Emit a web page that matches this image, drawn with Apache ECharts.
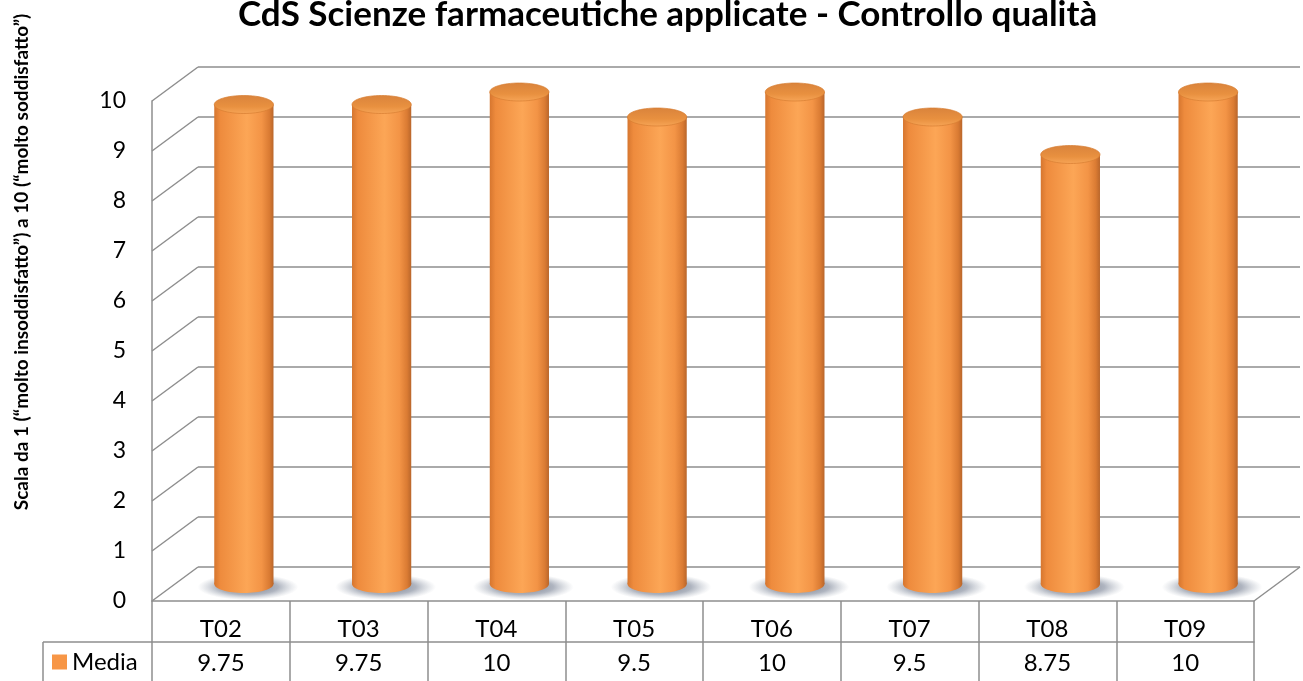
<!DOCTYPE html>
<html>
<head>
<meta charset="utf-8">
<script src="https://cdn.jsdelivr.net/npm/echarts@6/dist/echarts.min.js"></script>
<style>
  html, body { margin: 0; padding: 0; background: #fff; }
  #chart { width: 1303px; height: 681px; }
</style>
</head>
<body>
<div id="chart"></div>
<script>
// dati
const categories = ['T02', 'T03', 'T04', 'T05', 'T06', 'T07', 'T08', 'T09']
const mediaValues = [9.75, 9.75, 10, 9.5, 10, 9.5, 8.75, 10]
const yTicks = [0, 1, 2, 3, 4, 5, 6, 7, 8, 9, 10]

const FONT = 'Lato, "Open Sans", sans-serif'
const LINE = '#8e8e8e'
// profondita' della parete di fondo (effetto 3D)
const DEPTH_X = 46
const DEPTH_Y = 34
const TOP_ADJ = 8

const chart = echarts.init(document.getElementById('chart'))

// pareti: diagonale laterale + linea di griglia sul fondo
const renderWall = (params, api) => {
  const cs = params.coordSys
  const v = api.value(1)
  const y = api.coord([0, v])[1]
  const x0 = cs.x
  const x1 = cs.x + cs.width
  const style = {stroke: LINE, lineWidth: 1.5}
  const children = [
    {type: 'line', shape: {x1: x0, y1: y, x2: x0 + DEPTH_X, y2: y - DEPTH_Y}, style},
    {type: 'line', shape: {x1: x0 + DEPTH_X, y1: y - DEPTH_Y, x2: x1 + DEPTH_X, y2: y - DEPTH_Y}, style}
  ]
  if (v === 0) {
    children.push({type: 'line', shape: {x1: x1, y1: y, x2: x1 + DEPTH_X, y2: y - DEPTH_Y}, style})
  }
  return {type: 'group', children}
}

const bodyGradient = () => new echarts.graphic.LinearGradient(0, 0, 1, 0, [
  {offset: 0, color: '#d6762f'},
  {offset: 0.1, color: '#ee8b3d'},
  {offset: 0.55, color: '#fca656'},
  {offset: 0.8, color: '#f39446'},
  {offset: 0.93, color: '#da7b33'},
  {offset: 1, color: '#b9662b'}
])

// cilindri
const renderCylinder = (params, api) => {
  const idx = api.value(0)
  const val = api.value(1)
  const top = api.coord([idx, val])
  const base = api.coord([idx, 0])
  const bw = api.size([1, 0])[0]
  const rx = bw * 0.215
  const ry = 9
  const cx = top[0] + DEPTH_X / 2
  const yBottom = base[1] - DEPTH_Y / 2
  const yTop = top[1] - DEPTH_Y / 2 + TOP_ADJ
  const shadowR = rx * 1.7
  return {
    type: 'group',
    children: [
      {
        type: 'circle',
        x: cx + 4, y: yBottom + 3,
        scaleY: 13 / shadowR,
        shape: {cx: 0, cy: 0, r: shadowR},
        style: {
          fill: new echarts.graphic.RadialGradient(0.5, 0.5, 0.5, [
            {offset: 0, color: 'rgba(85,95,115,0.85)'},
            {offset: 0.6, color: 'rgba(110,120,140,0.55)'},
            {offset: 1, color: 'rgba(150,160,175,0)'}
          ])
        }
      },
      {type: 'ellipse', shape: {cx, cy: yBottom, rx, ry}, style: {fill: bodyGradient()}},
      {type: 'rect', shape: {x: cx - rx, y: yTop, width: rx * 2, height: yBottom - yTop}, style: {fill: bodyGradient()}},
      {
        type: 'ellipse',
        shape: {cx, cy: yTop, rx, ry},
        style: {
          fill: new echarts.graphic.LinearGradient(0, 0, 0, 1, [
            {offset: 0, color: '#d9833c'},
            {offset: 0.6, color: '#e8903f'},
            {offset: 1, color: '#f7a557'}
          ]),
          stroke: 'rgba(215,125,50,0.7)',
          lineWidth: 1
        }
      }
    ]
  }
}

const option = {
  animation: false,
  title: {
    text: 'CdS Scienze farmaceutiche applicate - Controllo qualità',
    left: 238,
    top: -3,
    padding: 0,
    textStyle: {fontFamily: FONT, fontSize: 35, fontWeight: 'bold', color: '#000'}
  },
  legend: {
    data: ['Media'],
    left: 52,
    top: 650,
    padding: 0,
    icon: 'rect',
    itemWidth: 15,
    itemHeight: 15,
    itemGap: 6,
    textStyle: {fontFamily: FONT, fontSize: 24, color: '#000'}
  },
  grid: {left: 152, right: 49, top: 101, bottom: 80},
  xAxis: [
    {
      type: 'category',
      data: categories,
      axisLine: {lineStyle: {color: LINE, width: 1.5}},
      axisTick: {show: true, length: 80, interval: 0, lineStyle: {color: LINE, width: 1.5}},
      axisLabel: {interval: 0, margin: 16, fontFamily: FONT, fontSize: 24, color: '#000'}
    },
    {
      type: 'category',
      data: categories,
      position: 'bottom',
      offset: 41,
      axisLine: {lineStyle: {color: LINE, width: 1.5}},
      axisTick: {show: false},
      axisLabel: {
        interval: 0, margin: 9, fontFamily: FONT, fontSize: 24, color: '#000',
        formatter: (val, i) => String(mediaValues[i])
      }
    }
  ],
  yAxis: {
    type: 'value',
    min: 0,
    max: 10,
    interval: 1,
    axisLine: {show: true, lineStyle: {color: LINE, width: 1.5}},
    axisTick: {show: false},
    splitLine: {show: false},
    axisLabel: {margin: 26, fontFamily: FONT, fontSize: 23, color: '#000'}
  },
  graphic: [
    {
      type: 'text',
      x: 22, y: 262,
      rotation: Math.PI / 2,
      style: {
        text: 'Scala da 1 (“molto insoddisfatto”) a 10 (“molto soddisfatto”)',
        fontFamily: FONT, fontSize: 19, fontWeight: 'bold', fill: '#000',
        align: 'center', verticalAlign: 'middle'
      }
    },
    // cella della legenda nella tabella dati
    {type: 'line', shape: {x1: 43, y1: 642, x2: 152, y2: 642}, style: {stroke: LINE, lineWidth: 1.5}},
    {type: 'line', shape: {x1: 43, y1: 642, x2: 43, y2: 681}, style: {stroke: LINE, lineWidth: 1.5}}
  ],
  series: [
    {
      name: 'pareti',
      type: 'custom',
      renderItem: renderWall,
      data: yTicks.map(v => [0, v]),
      encode: {x: 0, y: 1},
      silent: true,
      z: 1
    },
    {
      name: 'Media',
      type: 'custom',
      renderItem: renderCylinder,
      data: mediaValues.map((v, i) => [i, v]),
      encode: {x: 0, y: 1},
      itemStyle: {color: '#F79646'},
      z: 2
    }
  ]
}

chart.setOption(option)
</script>
</body>
</html>
